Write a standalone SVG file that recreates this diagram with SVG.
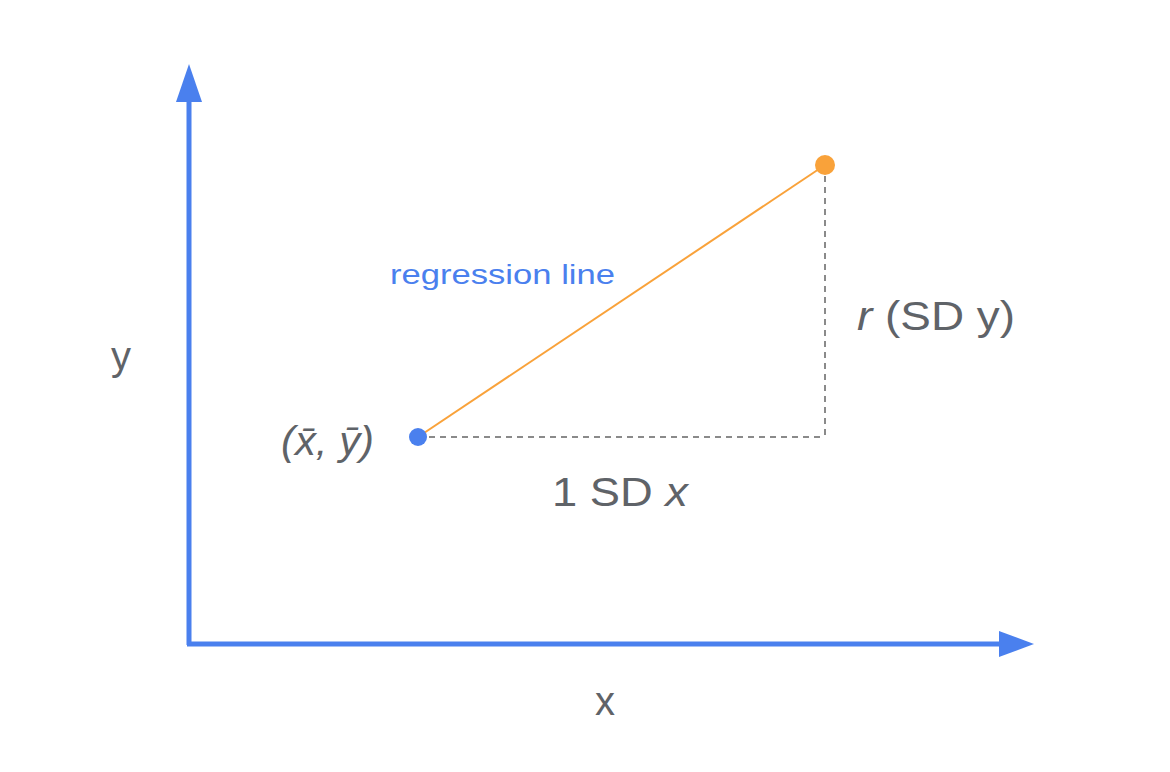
<svg xmlns="http://www.w3.org/2000/svg" width="1170" height="772" viewBox="0 0 1170 772">
<style>
.lbl{font-family:"Liberation Sans",Arial,sans-serif;fill:#5f6368;font-size:40px}
.it{font-style:italic}
.axis{stroke:#4a80ee;stroke-width:5;fill:none}
.dash{stroke:#8a8a8a;stroke-width:2;stroke-dasharray:6 5;fill:none}
</style>
<rect width="1170" height="772" fill="#ffffff"/>
<g id="connectors">
<line class="axis" x1="189" y1="645" x2="189" y2="98"/>
<polygon points="189,64 176,102 202,102" fill="#4a80ee"/>
<line class="axis" x1="187" y1="644" x2="1003" y2="644"/>
<polygon points="1034,644 999,631 999,657" fill="#4a80ee"/>
<line x1="418" y1="437" x2="825" y2="165" stroke="#f9a23a" stroke-width="2"/>
<line class="dash" x1="418" y1="437" x2="825" y2="437"/>
<line class="dash" x1="825" y1="165" x2="825" y2="437"/>
</g>
<g id="mean-point">
<circle cx="418" cy="437" r="9" fill="#4a80ee"/>
<text class="lbl it" x="281" y="455" font-size="38" textLength="93" lengthAdjust="spacingAndGlyphs">(x̄, ȳ)</text>
</g>
<g id="end-point">
<circle cx="825" cy="165" r="10" fill="#f9a23a"/>
</g>
<g id="regression-label">
<text x="390" y="284" font-family="'Liberation Sans',Arial,sans-serif" font-size="28" fill="#4a80ee" textLength="225" lengthAdjust="spacingAndGlyphs">regression line</text>
</g>
<g id="rise-label">
<text class="lbl" x="857" y="330" textLength="158" lengthAdjust="spacingAndGlyphs"><tspan class="it">r</tspan> (SD y)</text>
</g>
<g id="run-label">
<text class="lbl" x="552" y="506" textLength="136" lengthAdjust="spacingAndGlyphs">1 SD <tspan class="it">x</tspan></text>
</g>
<g id="y-label"><text class="lbl" x="111" y="370">y</text></g>
<g id="x-label"><text class="lbl" x="595" y="715">x</text></g>
</svg>
